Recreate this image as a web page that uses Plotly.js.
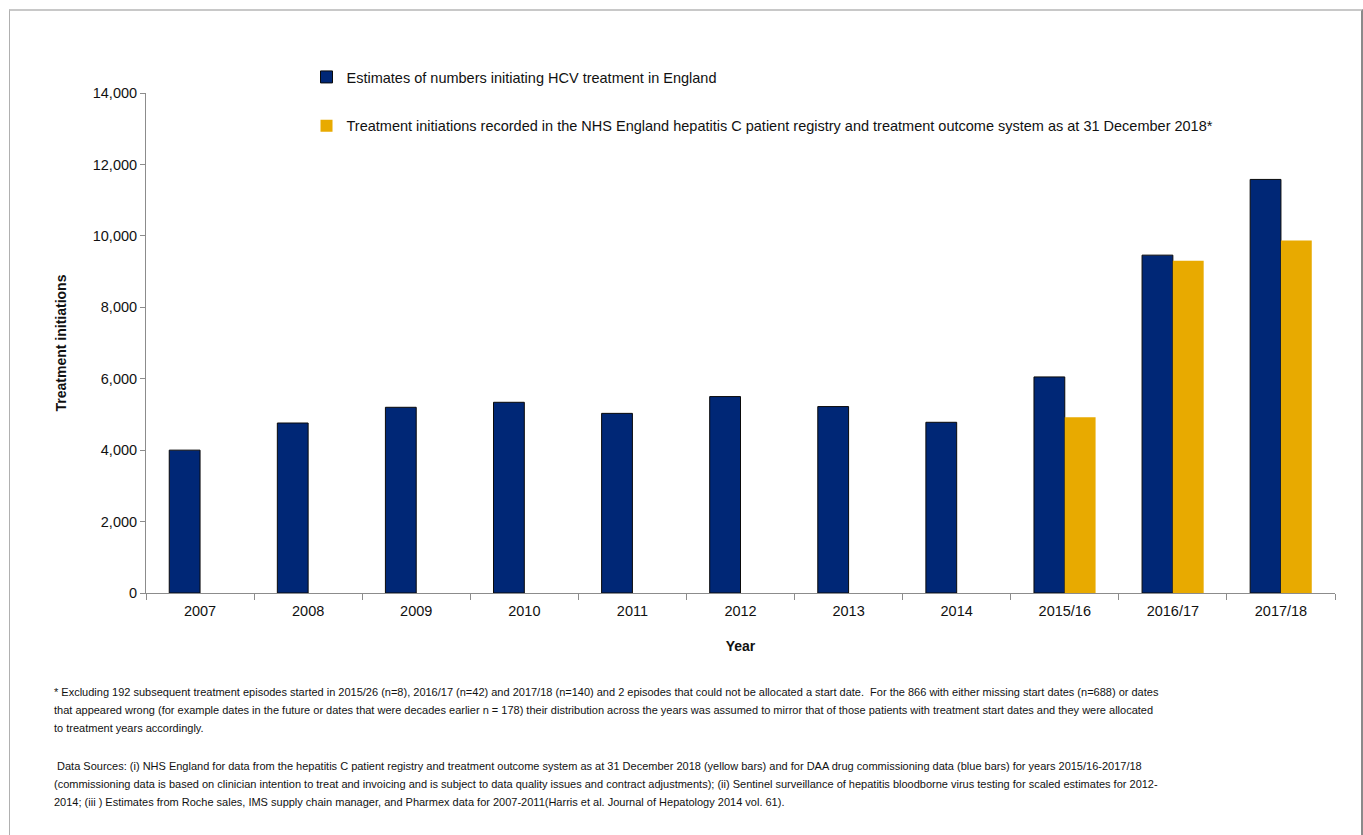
<!DOCTYPE html>
<html>
<head>
<meta charset="utf-8">
<script src="https://cdn.plot.ly/plotly-3.0.1.min.js"></script>
<style>
  html, body { margin: 0; padding: 0; background: #fff; }
  #frame { position: absolute; left: 9px; top: 9px; width: 1351px; height: 840px;
           border-left: 1px solid #b0b0b0; border-top: 2px solid #c8c8c8; border-right: 2px solid #8a8a8a; }
  #chart { position: absolute; left: 0; top: 0; width: 1363px; height: 835px; }
</style>
</head>
<body>
<div id="frame"></div>
<div id="chart"></div>
<script>
const categories = ["2007","2008","2009","2010","2011","2012","2013","2014","2015/16","2016/17","2017/18"];
const estimates = [4000, 4760, 5200, 5340, 5030, 5500, 5220, 4780, 6050, 9460, 11580];
const registry = [null, null, null, null, null, null, null, null, 4920, 9300, 9870];
const seriesNames = [
  "Estimates of numbers initiating HCV treatment in England",
  "Treatment initiations recorded in the NHS England hepatitis C patient registry and treatment outcome system as at 31 December 2018*"
];
const footnoteLines = [
  "* Excluding 192 subsequent treatment episodes started in 2015/26 (n=8), 2016/17 (n=42) and 2017/18 (n=140) and 2 episodes that could not be allocated a start date.  For the 866 with either missing start dates (n=688) or dates",
  "that appeared wrong (for example dates in the future or dates that were decades earlier n = 178) their distribution across the years was assumed to mirror that of those patients with treatment start dates and they were allocated",
  "to treatment years accordingly.",
  " Data Sources: (i) NHS England for data from the hepatitis C patient registry and treatment outcome system as at 31 December 2018 (yellow bars) and for DAA drug commissioning data (blue bars) for years 2015/16-2017/18",
  "(commissioning data is based on clinician intention to treat and invoicing and is subject to data quality issues and contract adjustments); (ii) Sentinel surveillance of hepatitis bloodborne virus testing for scaled estimates for 2012-",
  "2014; (iii ) Estimates from Roche sales, IMS supply chain manager, and Pharmex data for 2007-2011(Harris et al. Journal of Hepatology 2014 vol. 61)."
];
const footnoteY = [-0.198, -0.234, -0.270, -0.346, -0.382, -0.418];

const ARIAL = "'Liberation Sans', Arial, sans-serif";

const traces = [
  { type: "bar", name: seriesNames[0], x: categories, y: estimates, legendgroup: "a",
    marker: { color: "#002776", line: { color: "#0a0a0a", width: 1 } }, hoverinfo: "x+y" },
  { type: "bar", name: seriesNames[1], x: categories, y: registry, legendgroup: "b",
    marker: { color: "#E8AA00", line: { width: 0 } }, hoverinfo: "x+y" }
];

const annotations = footnoteLines.map((t, i) => ({
  xref: "paper", yref: "paper", x: -0.079, y: footnoteY[i], xanchor: "left", yanchor: "middle",
  align: "left", showarrow: false, text: t, font: { family: ARIAL, size: 11, color: "#111" }
}));

const layout = {
  width: 1363, height: 835,
  margin: { l: 146, r: 28, t: 93, b: 242 },
  paper_bgcolor: "rgba(0,0,0,0)", plot_bgcolor: "rgba(0,0,0,0)",
  font: { family: ARIAL, size: 14, color: "#111" },
  barmode: "group", bargap: 0.43, bargroupgap: 0,
  showlegend: true,
  legend: { x: 0.135, y: 1.064, xanchor: "left", yanchor: "top", traceorder: "grouped",
            tracegroupgap: 27, font: { family: ARIAL, size: 14.5, color: "#111" },
            bgcolor: "rgba(0,0,0,0)", itemwidth: 30 },
  xaxis: { type: "category", showline: true, linecolor: "#8c8c8c", linewidth: 1,
           ticks: "outside", tickson: "boundaries", ticklen: 6, tickcolor: "#8c8c8c",
           ticklabelstandoff: 5,
           showgrid: false, zeroline: false, tickfont: { family: ARIAL, size: 14.5 },
           title: { text: "<b>Year</b>", font: { family: ARIAL, size: 14 }, standoff: 22 } },
  yaxis: { range: [0, 14000], dtick: 2000, tickformat: ",d", showline: true, linecolor: "#8c8c8c",
           linewidth: 1, ticks: "outside", ticklen: 5, tickcolor: "#8c8c8c", showgrid: false,
           zeroline: false, tickfont: { family: ARIAL, size: 14.5 },
           title: { text: "<b>Treatment initiations</b>", font: { family: ARIAL, size: 14 }, standoff: 22 } },
  annotations: annotations
};

Plotly.newPlot("chart", traces, layout, { displayModeBar: false, staticPlot: true });
</script>
</body>
</html>
